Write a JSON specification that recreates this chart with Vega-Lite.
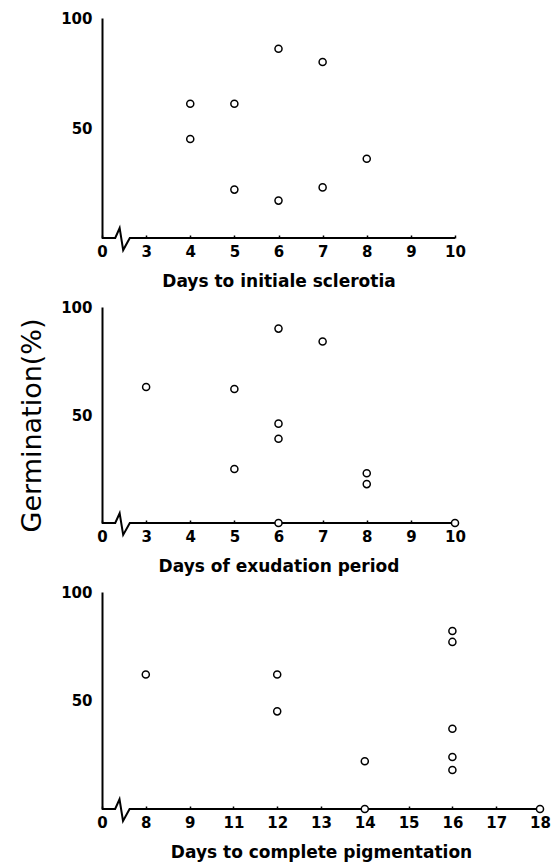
{
  "$schema": "https://vega.github.io/schema/vega-lite/v6.json",
  "background": "white",
  "padding": {"left": 18, "top": 11, "right": 5, "bottom": 2},
  "spacing": 11,
  "config": {
    "view": {"stroke": null},
    "font": "DejaVu Sans",
    "axis": {
      "grid": false,
      "domainColor": "black",
      "domainWidth": 2,
      "tickColor": "black",
      "tickWidth": 1.5,
      "labelColor": "black",
      "titleColor": "black",
      "labelFont": "DejaVu Sans",
      "labelFontWeight": "bold",
      "labelFontSize": 15,
      "titleFont": "DejaVu Sans",
      "titleFontWeight": "bold",
      "titleFontSize": 17
    }
  },
  "datasets": {
    "initiation": [
      {"days": 4, "germination": 61}, {"days": 4, "germination": 45},
      {"days": 5, "germination": 61}, {"days": 5, "germination": 22},
      {"days": 6, "germination": 86}, {"days": 6, "germination": 17},
      {"days": 7, "germination": 80}, {"days": 7, "germination": 23},
      {"days": 8, "germination": 36}
    ],
    "exudation": [
      {"days": 3, "germination": 63},
      {"days": 5, "germination": 62}, {"days": 5, "germination": 25},
      {"days": 6, "germination": 90}, {"days": 6, "germination": 46},
      {"days": 6, "germination": 39}, {"days": 6, "germination": 0},
      {"days": 7, "germination": 84},
      {"days": 8, "germination": 23}, {"days": 8, "germination": 18},
      {"days": 10, "germination": 0}
    ],
    "pigmentation": [
      {"days": 8, "germination": 62},
      {"days": 12, "germination": 62}, {"days": 12, "germination": 45},
      {"days": 14, "germination": 22}, {"days": 14, "germination": 0},
      {"days": 16, "germination": 82}, {"days": 16, "germination": 77},
      {"days": 16, "germination": 37}, {"days": 16, "germination": 24},
      {"days": 16, "germination": 18},
      {"days": 18, "germination": 0}
    ],
    "break8": [
      {"bx": 0, "by": 0}, {"bx": 0.3, "by": 0}, {"bx": 0.4, "by": 4.5},
      {"bx": 0.48, "by": -5.5}, {"bx": 0.63, "by": 0}, {"bx": 8, "by": 0}
    ],
    "break10": [
      {"bx": 0, "by": 0}, {"bx": 0.3, "by": 0}, {"bx": 0.4, "by": 4.5},
      {"bx": 0.48, "by": -5.5}, {"bx": 0.63, "by": 0}, {"bx": 10, "by": 0}
    ]
  },
  "vconcat": [
    {
      "width": 353,
      "height": 220,
      "resolve": {"scale": {"x": "independent"}, "axis": {"x": "independent"}},
      "layer": [
        {
          "data": {"name": "break8"},
          "mark": {"type": "line", "color": "black", "strokeWidth": 2, "clip": false},
          "encoding": {
            "x": {"field": "bx", "type": "quantitative", "scale": {"domain": [0, 8], "nice": false, "zero": false}, "axis": null},
            "y": {"field": "by", "type": "quantitative", "scale": {"domain": [0, 100], "nice": false},
                  "axis": {"title": null, "values": [50, 100], "tickSize": 0, "labelPadding": 10}}
          }
        },
        {
          "data": {"name": "initiation"},
          "mark": {"type": "point", "shape": "circle", "filled": true, "fill": "white", "stroke": "black", "strokeWidth": 1.5, "size": 50, "opacity": 1},
          "encoding": {
            "x": {"field": "days", "type": "ordinal", "scale": {"type": "point", "domain": [0, 3, 4, 5, 6, 7, 8, 9, 10], "padding": 0},
                  "axis": {"title": "Days to initiale sclerotia", "labelAngle": 0, "domain": false, "tickSize": -3, "labelPadding": 9, "titlePadding": 14}},
            "y": {"field": "germination", "type": "quantitative", "scale": {"domain": [0, 100], "nice": false},
                  "axis": {"title": null, "values": [50, 100], "tickSize": 0, "labelPadding": 10}}
          }
        }
      ]
    },
    {
      "width": 353,
      "height": 216,
      "resolve": {"scale": {"x": "independent"}, "axis": {"x": "independent"}},
      "layer": [
        {
          "data": {"name": "break8"},
          "mark": {"type": "line", "color": "black", "strokeWidth": 2, "clip": false},
          "encoding": {
            "x": {"field": "bx", "type": "quantitative", "scale": {"domain": [0, 8], "nice": false, "zero": false}, "axis": null},
            "y": {"field": "by", "type": "quantitative", "scale": {"domain": [0, 100], "nice": false},
                  "axis": {"title": "Germination(%)", "titleFontSize": 27, "titleFontWeight": "normal", "titlePadding": 14, "titleY": 118,
                           "values": [50, 100], "tickSize": 0, "labelPadding": 10}}
          }
        },
        {
          "data": {"name": "exudation"},
          "mark": {"type": "point", "shape": "circle", "filled": true, "fill": "white", "stroke": "black", "strokeWidth": 1.5, "size": 50, "opacity": 1},
          "encoding": {
            "x": {"field": "days", "type": "ordinal", "scale": {"type": "point", "domain": [0, 3, 4, 5, 6, 7, 8, 9, 10], "padding": 0},
                  "axis": {"title": "Days of exudation period", "labelAngle": 0, "domain": false, "tickSize": -3, "labelPadding": 9, "titlePadding": 14}},
            "y": {"field": "germination", "type": "quantitative", "scale": {"domain": [0, 100], "nice": false},
                  "axis": {"title": "Germination(%)", "titleFontSize": 27, "titleFontWeight": "normal", "titlePadding": 14, "titleY": 118,
                           "values": [50, 100], "tickSize": 0, "labelPadding": 10}}
          }
        }
      ]
    },
    {
      "width": 438,
      "height": 217,
      "resolve": {"scale": {"x": "independent"}, "axis": {"x": "independent"}},
      "layer": [
        {
          "data": {"name": "break10"},
          "mark": {"type": "line", "color": "black", "strokeWidth": 2, "clip": false},
          "encoding": {
            "x": {"field": "bx", "type": "quantitative", "scale": {"domain": [0, 10], "nice": false, "zero": false}, "axis": null},
            "y": {"field": "by", "type": "quantitative", "scale": {"domain": [0, 100], "nice": false},
                  "axis": {"title": null, "values": [50, 100], "tickSize": 0, "labelPadding": 10}}
          }
        },
        {
          "data": {"name": "pigmentation"},
          "mark": {"type": "point", "shape": "circle", "filled": true, "fill": "white", "stroke": "black", "strokeWidth": 1.5, "size": 50, "opacity": 1},
          "encoding": {
            "x": {"field": "days", "type": "ordinal", "scale": {"type": "point", "domain": [0, 8, 9, 11, 12, 13, 14, 15, 16, 17, 18], "padding": 0},
                  "axis": {"title": "Days to complete pigmentation", "labelAngle": 0, "domain": false, "tickSize": -3, "labelPadding": 9, "titlePadding": 14}},
            "y": {"field": "germination", "type": "quantitative", "scale": {"domain": [0, 100], "nice": false},
                  "axis": {"title": null, "values": [50, 100], "tickSize": 0, "labelPadding": 10}}
          }
        }
      ]
    }
  ]
}
